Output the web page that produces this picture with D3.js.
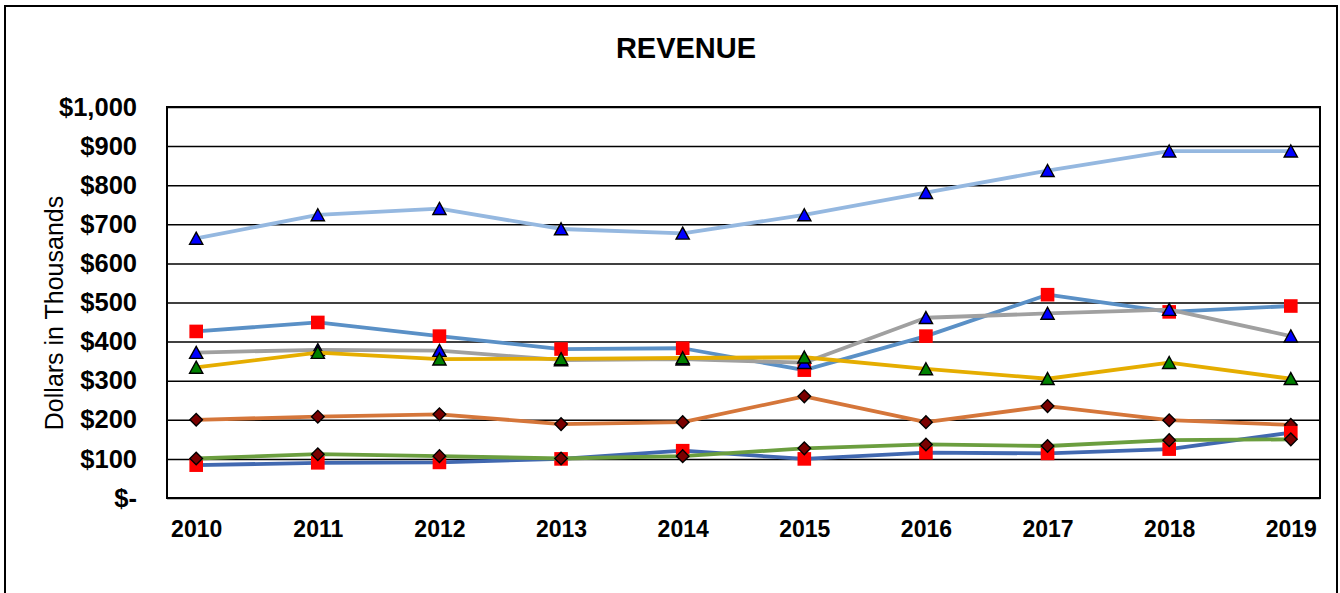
<!DOCTYPE html>
<html>
<head>
<meta charset="utf-8">
<script src="https://cdn.jsdelivr.net/npm/d3@7"></script>
<style>
  html, body { margin: 0; padding: 0; background: #fff; }
  svg { display: block; font-family: "Liberation Sans", Arial, sans-serif; }
</style>
</head>
<body>
<svg id="chart" width="1340" height="593"></svg>
<script>
// ---- data ----
const years = ["2010","2011","2012","2013","2014","2015","2016","2017","2018","2019"];
const yTicks = [0,100,200,300,400,500,600,700,800,900,1000];
const lightBlueSeries = [664,724,740,688,677,724,781,837,887,887];
const steelBlueSeries = [426,449,414,381,383,327,414,520,476,491];
const graySeries      = [372,379,377,353,355,346,461,472,482,414];
const goldSeries      = [334,372,355,356,358,360,330,305,346,305];
const orangeSeries    = [200,208,214,189,194,260,194,235,199,187];
const darkBlueSeries  = [84,90,91,100,121,100,116,114,125,167];
const greenSeries     = [101,112,107,101,107,127,137,133,148,150];

const seriesList = [
  {values: lightBlueSeries, line: "#95B8E0", marker: "triangle", fill: "#0000FF"},
  {values: steelBlueSeries, line: "#5A90C6", marker: "square",   fill: "#FF0000"},
  {values: graySeries,      line: "#A0A0A0", marker: "triangle", fill: "#0000FF"},
  {values: goldSeries,      line: "#E5AD00", marker: "triangle", fill: "#008000"},
  {values: orangeSeries,    line: "#D5763A", marker: "diamond",  fill: "#7A0000"},
  {values: darkBlueSeries,  line: "#4168B0", marker: "square",   fill: "#FF0000"},
  {values: greenSeries,     line: "#6B9E3F", marker: "diamond",  fill: "#7A0000"}
];

// ---- layout ----
const svg = d3.select("#chart");
const plot = {left: 167, right: 1320, top: 107, bottom: 498};

svg.append("rect").attr("x", 0).attr("y", 0).attr("width", 1340).attr("height", 593).attr("fill", "#fff");
// outer chart border
svg.append("rect").attr("x", 5).attr("y", 6).attr("width", 1332).attr("height", 620)
  .attr("fill", "none").attr("stroke", "#000").attr("stroke-width", 2);

const x = d3.scalePoint().domain(years).range([plot.left, plot.right]).padding(0.24);
const y = d3.scaleLinear().domain([0, 1000]).range([plot.bottom, plot.top]);

// gridlines
const grid = svg.append("g").attr("transform", `translate(${plot.left},0)`)
  .call(d3.axisLeft(y).tickValues(yTicks).tickSize(-(plot.right - plot.left)).tickFormat(""));
grid.select(".domain").remove();
grid.selectAll("line").attr("stroke", "#000").attr("stroke-width", 1.5);

// plot border
svg.append("rect").attr("x", plot.left).attr("y", plot.top)
  .attr("width", plot.right - plot.left).attr("height", plot.bottom - plot.top)
  .attr("fill", "none").attr("stroke", "#000").attr("stroke-width", 2);

// y labels
const fmt = d3.format(",");
const yAx = svg.append("g").attr("transform", `translate(${plot.left},0)`)
  .call(d3.axisLeft(y).tickValues(yTicks).tickSize(0).tickPadding(30)
    .tickFormat(v => v === 0 ? "$-" : "$" + fmt(v)));
yAx.select(".domain").remove();
yAx.selectAll("text").attr("font-family", "Liberation Sans, Arial, sans-serif")
  .attr("font-size", 25.5).attr("font-weight", "bold").attr("fill", "#000");

// x labels
const xAx = svg.append("g").attr("transform", `translate(0,${plot.bottom})`)
  .call(d3.axisBottom(x).tickSize(0));
xAx.select(".domain").remove();
xAx.selectAll("text").attr("y", 39).attr("dy", null)
  .attr("font-family", "Liberation Sans, Arial, sans-serif")
  .attr("font-size", 23).attr("font-weight", "bold").attr("fill", "#000");

// title
svg.append("text").attr("x", 686).attr("y", 58).attr("text-anchor", "middle")
  .attr("font-size", 29).attr("font-weight", "bold").text("REVENUE");

// y axis title
svg.append("text").attr("transform", "translate(63,313) rotate(-90)")
  .attr("text-anchor", "middle").attr("font-size", 25).text("Dollars in Thousands");

// markers
const markerPath = {
  triangle: "M0,-6.2L6.6,5.8L-6.6,5.8Z",
  square: "M-6.8,-6.8H6.8V6.8H-6.8Z",
  diamond: "M0,-6.3L6.3,0L0,6.3L-6.3,0Z"
};

const lineGen = d3.line().x((d, i) => x(years[i])).y(d => y(d));

seriesList.forEach(s => {
  const g = svg.append("g");
  g.append("path").datum(s.values).attr("d", lineGen)
    .attr("fill", "none").attr("stroke", s.line).attr("stroke-width", 3.8)
    .attr("stroke-linejoin", "round").attr("stroke-linecap", "round");
  g.selectAll("path.mk").data(s.values).enter().append("path").attr("class", "mk")
    .attr("d", markerPath[s.marker])
    .attr("transform", (d, i) => `translate(${x(years[i])},${y(d)})`)
    .attr("fill", s.fill)
    .attr("stroke", s.marker === "square" ? "none" : "#000")
    .attr("stroke-width", 1.4);
});
</script>
</body>
</html>
